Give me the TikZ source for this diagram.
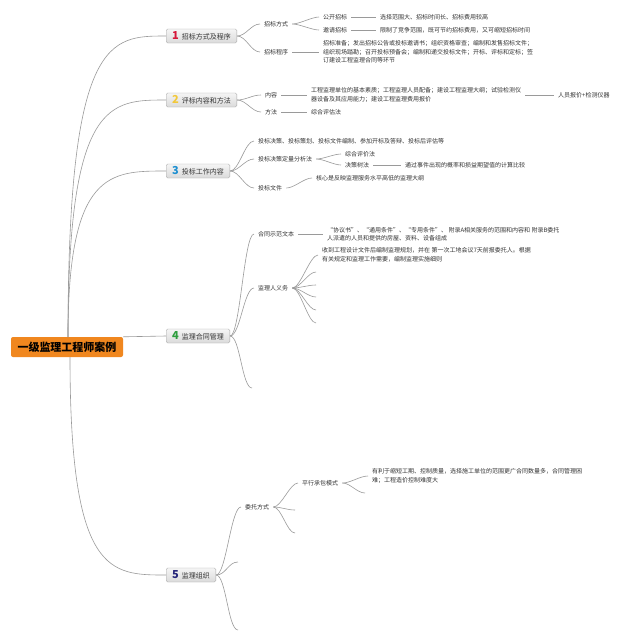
\documentclass[tikz,border=0pt]{standalone}
\usepackage{fontspec}
\newfontfamily\cjk{Noto Sans CJK SC}
\usetikzlibrary{calc}
\definecolor{lnc}{HTML}{9A9A9A}
\definecolor{txt}{HTML}{333333}
\definecolor{boxline}{HTML}{A8A8A8}
\definecolor{boxtop}{HTML}{F5F5F5}
\definecolor{boxbot}{HTML}{DADADA}
\definecolor{rootor}{HTML}{F0871F}
\definecolor{nA}{HTML}{D6183A}
\definecolor{nB}{HTML}{F2C83A}
\definecolor{nC}{HTML}{1E8FD0}
\definecolor{nD}{HTML}{2E9E3E}
\definecolor{nE}{HTML}{25257A}
\tikzset{
  curv/.style={to path={.. controls ($(\tikztostart)+(#1,0)$) and ($(\tikztotarget)-(#1,0)$) .. (\tikztotarget)}},
  curv/.default=9,
  conn/.style={draw=lnc, line width=0.6pt},
  lbl/.style={anchor=west, inner xsep=4pt, inner ysep=1pt, align=left, text=txt, font=\cjk\fontsize{6}{8.5}\selectfont},
  mainbox/.style={anchor=west, draw=boxline, top color=boxtop, bottom color=boxbot, rounded corners=1.5pt, minimum height=14pt, inner xsep=6pt, inner ysep=0pt, text=txt, font=\cjk\fontsize{7}{8}\selectfont},
  rootbox/.style={fill=rootor, rounded corners=2pt, minimum width=112pt, minimum height=20pt, inner sep=0pt, text=black, font=\cjk\bfseries\fontsize{11}{12}\selectfont},
}
\newcommand{\bnum}[2]{{\bfseries\fontsize{11}{11}\selectfont\color{#1}#2}\hspace{3pt}}
\begin{document}
\begin{tikzpicture}[x=1pt,y=-1pt]
\fill[white] (0,0) rectangle (640,641);
\useasboundingbox (0,0) rectangle (640,641);

% root
\node[rootbox] (root) at (67,347) {一级监理工程师案例};
\coordinate (rt) at (68,337);
\coordinate (rb) at (70,357);

% main branches
\node[mainbox] (b1) at (166,36) {\bnum{nA}{1}招标方式及程序};
\node[mainbox] (b2) at (166,100) {\bnum{nB}{2}评标内容和方法};
\node[mainbox] (b3) at (166,171) {\bnum{nC}{3}投标工作内容};
\node[mainbox] (b4) at (166,336) {\bnum{nD}{4}监理合同管理};
\node[mainbox] (b5) at (166,575) {\bnum{nE}{5}监理组织};

\draw[conn] (rt) .. controls (68,36) and (110,36) .. (b1.west);
\draw[conn] (rt) .. controls (68,100) and (110,100) .. (b2.west);
\draw[conn] (rt) .. controls (68,171) and (110,171) .. (b3.west);
\draw[conn] (root.north east) -- (b4.west);
\draw[conn] (rb) .. controls (70,575) and (110,575) .. (b5.west);

% branch 1
\node[lbl] (n11) at (260,24) {招标方式};
\node[lbl] (n12) at (260,52) {招标程序};
\node[lbl] (n111) at (319,17) {公开招标};
\node[lbl] (n112) at (319,30) {邀请招标};
\node[lbl] (n1111) at (376,17) {选择范围大、招标时间长、招标费用较高};
\node[lbl] (n1121) at (376,30) {限制了竞争范围，既可节约招标费用，又可缩短招标时间};
\node[lbl] (n121) at (319,52) {招标准备；发出招标公告或投标邀请书；组织资格审查；编制和发售招标文件；\\组织现场踏勘；召开投标预备会；编制和递交投标文件；开标、评标和定标；签\\订建设工程监理合同等环节};
\draw[conn] (b1.east) to[curv] (n11.west);
\draw[conn] (b1.east) to[curv] (n12.west);
\draw[conn] (n11.east) to[curv=7] (n111.west);
\draw[conn] (n11.east) to[curv=7] (n112.west);
\draw[conn] (n111.east) -- (n1111.west);
\draw[conn] (n112.east) -- (n1121.west);
\draw[conn] (n12.east) -- (n121.west);

% branch 2
\node[lbl] (n21) at (261,95) {内容};
\node[lbl] (n22) at (261,112) {方法};
\node[lbl] (n211) at (307,95) {工程监理单位的基本素质；工程监理人员配备；建设工程监理大纲；试验检测仪\\器设备及其应用能力；建设工程监理费用报价};
\node[lbl] (n2111) at (554,95) {人员报价+检测仪器};
\node[lbl] (n221) at (307,112) {综合评估法};
\draw[conn] (b2.east) to[curv] (n21.west);
\draw[conn] (b2.east) to[curv] (n22.west);
\draw[conn] (n21.east) -- (n211.west);
\draw[conn] (n211.east) -- (n2111.west);
\draw[conn] (n22.east) -- (n221.west);

% branch 3
\node[lbl] (n31) at (254,141) {投标决策、投标策划、投标文件编制、参加开标及答辩、投标后评估等};
\node[lbl] (n32) at (254,159) {投标决策定量分析法};
\node[lbl] (n33) at (254,188) {投标文件};
\node[lbl] (n321) at (341,154) {综合评价法};
\node[lbl] (n322) at (341,165) {决策树法};
\node[lbl] (n3221) at (401,165) {通过事件出现的概率和损益期望值的计算比较};
\node[lbl] (n331) at (312,178) {核心是反映监理服务水平高低的监理大纲};
\draw[conn] (b3.east) to[curv] (n31.west);
\draw[conn] (b3.east) to[curv] (n32.west);
\draw[conn] (b3.east) to[curv] (n33.west);
\draw[conn] (n32.east) to[curv=7] (n321.west);
\draw[conn] (n32.east) to[curv=7] (n322.west);
\draw[conn] (n322.east) -- (n3221.west);
\draw[conn] (n33.east) to[curv=8] (n331.west);

% branch 4
\node[lbl] (n41) at (254,234) {合同示范文本};
\node[lbl] (n42) at (254,288) {监理人义务};
\coordinate (c43) at (252,388);
\node[lbl] (n411) at (323,234) {“协议书”、“通用条件”、“专用条件”、 附录A相关服务的范围和内容和 附录B委托\\人派遣的人员和提供的房屋、资料、设备组成};
\node[lbl] (n421) at (318,255) {收到工程设计文件后编制监理规划，并在 第一次工地会议7天前报委托人。根据\\有关规定和监理工作需要，编制监理实施细则};
\coordinate (c422) at (316,272);
\coordinate (c423) at (316,285);
\coordinate (c424) at (316,297);
\coordinate (c425) at (316,310);
\coordinate (c426) at (316,323);
\draw[conn] (b4.east) to[curv=10] (n41.west);
\draw[conn] (b4.east) to[curv=10] (n42.west);
\draw[conn] (b4.east) to[curv=10] (c43);
\draw[conn] (n41.east) -- (n411.west);
\draw[conn] (n42.east) to[curv=8] (n421.west);
\draw[conn] (n42.east) to[curv=8] (c422);
\draw[conn] (n42.east) to[curv=8] (c423);
\draw[conn] (n42.east) to[curv=8] (c424);
\draw[conn] (n42.east) to[curv=8] (c425);
\draw[conn] (n42.east) to[curv=8] (c426);

% branch 5
\node[lbl] (n51) at (241,507) {委托方式};
\coordinate (c52) at (238,562);
\coordinate (c53) at (238,630);
\node[lbl] (n511) at (298,483) {平行承包模式};
\coordinate (c512) at (295,510);
\coordinate (c513) at (295,533);
\node[lbl] (n5111) at (368,476) {有利于缩短工期、控制质量，选择施工单位的范围更广合同数量多，合同管理困\\难；工程造价控制难度大};
\coordinate (c5112) at (365,493);
\draw[conn] (b5.east) to[curv=10] (n51.west);
\draw[conn] (b5.east) to[curv=10] (c52);
\draw[conn] (b5.east) to[curv=10] (c53);
\draw[conn] (n51.east) to[curv=8] (n511.west);
\draw[conn] (n51.east) to[curv=8] (c512);
\draw[conn] (n51.east) to[curv=8] (c513);
\draw[conn] (n511.east) to[curv=8] (n5111.west);
\draw[conn] (n511.east) to[curv=8] (c5112);
\end{tikzpicture}
\end{document}
